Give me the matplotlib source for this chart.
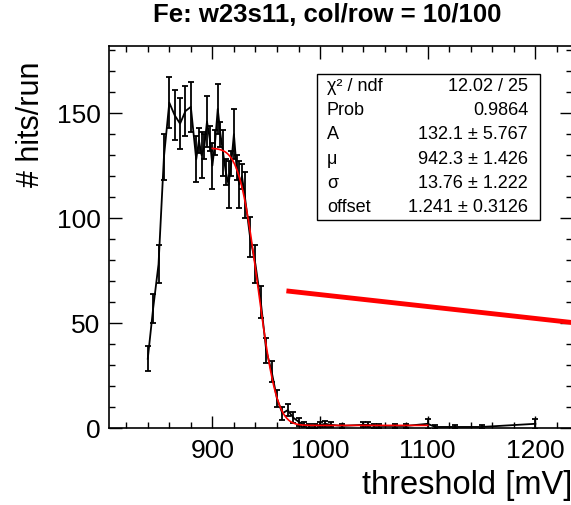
import math
import numpy as np
import matplotlib
matplotlib.use('Agg')
import matplotlib.pyplot as plt
from matplotlib.ticker import MultipleLocator
from matplotlib.patches import Rectangle

plt.rcParams['font.family'] = ['Liberation Sans', 'DejaVu Sans']

# threshold scan points (mV), hits per run and errors
threshold = [840, 845, 850, 855, 860, 865, 870, 875, 880, 885, 887.5, 890,
             892.5, 895, 897.5, 900, 902.5, 905, 907.5, 910, 912.5, 915,
             917.5, 920, 922.5, 925, 927.5, 930, 935, 940, 945, 950, 955,
             960, 965, 970, 975, 980, 985, 990, 995, 1000, 1005, 1010, 1020,
             1040, 1045, 1050, 1055, 1070, 1080, 1100, 1107, 1125, 1150, 1200]
hits = [33, 57, 78, 129, 155, 149, 145, 151, 153, 128, 137, 130,
        134, 146, 138, 125, 136, 152, 140, 131, 122, 116,
        126, 140, 124, 116, 120, 111, 91, 78, 60, 37, 27,
        14, 7, 8.5, 5, 3, 1.5, 1, 1, 1.5, 2, 1.5, 1,
        1.5, 1.5, 1, 1, 1, 1, 2, 0.5, 0.5, 0.5, 2]
hits_err = [6, 7, 9, 11, 12, 12, 12, 12, 12, 11, 6, 11,
            6, 12, 6, 11, 6, 12, 6, 11, 6, 11,
            6, 12, 6, 11, 6, 11, 9.5, 9, 7.5, 6, 5,
            4, 3, 2.7, 2.5, 2, 1.2, 1, 1, 1.2, 1.5, 1.2, 1,
            1.2, 1.2, 1, 1, 1, 1, 2.5, 1, 1, 1, 2.5]

# fit result (erfc turn-off), as printed in the stats box
fit_A, fit_mu, fit_sigma, fit_offset = 132.1, 942.3, 13.76, 1.241
fit_lo, fit_hi = 900, 1100

stat_names = ['χ² / ndf', 'Prob', 'A', 'μ', 'σ', 'offset']
stat_values = ['12.02 / 25', '0.9864', '132.1 ± 5.767', '942.3 ± 1.426',
               '13.76 ± 1.222', '1.241 ± 0.3126']

# the extra thick red line
line_x = [971, 1235]
line_y = [65.2, 50.2]

W, H = 571, 505
fig = plt.figure(figsize=(W / 100, H / 100), dpi=100)
ax = fig.add_axes([109 / W, 1 - 428 / H, (572 - 109) / W, (428 - 46) / H])

ax.errorbar(threshold, hits, yerr=hits_err, color='black', lw=1.3,
            elinewidth=1.3, capsize=2.5, capthick=1.3, zorder=2)

xs = np.linspace(fit_lo, fit_hi, 400)
erfc = np.vectorize(math.erfc)
ys = fit_A / 2 * erfc((xs - fit_mu) / (math.sqrt(2) * fit_sigma)) + fit_offset
ax.plot(xs, ys, color='red', lw=1.2, zorder=3)

ax.plot(line_x, line_y, color='red', lw=3.5, zorder=3)

ax.set_xlim(804, 1234)
ax.set_ylim(0, 182)
ax.xaxis.set_major_locator(MultipleLocator(100))
ax.xaxis.set_minor_locator(MultipleLocator(20))
ax.yaxis.set_major_locator(MultipleLocator(50))
ax.yaxis.set_minor_locator(MultipleLocator(10))
ax.tick_params(which='both', direction='in', top=True, right=True,
               width=1.0, labelsize=19)
ax.tick_params(which='major', length=9)
ax.tick_params(which='minor', length=4.5)
ax.tick_params(axis='x', pad=8)
ax.tick_params(axis='y', pad=6)
for s in ax.spines.values():
    s.set_linewidth(1.2)

ax.set_xlabel('threshold [mV]', loc='right', fontsize=23.5, labelpad=5)
ax.set_ylabel('# hits/run', loc='top', fontsize=22)
ax.yaxis.set_label_coords(-0.136, 0.96)

fig.text(327 / W, 1 - 15 / H, 'Fe: w23s11, col/row = 10/100',
         ha='center', va='center', fontsize=18.5, fontweight='bold')

# stats box
bx0, by0, bx1, by1 = 317, 74, 540, 220
fig.patches.append(Rectangle((bx0 / W, 1 - by1 / H), (bx1 - bx0) / W,
                             (by1 - by0) / H, transform=fig.transFigure,
                             facecolor='white', edgecolor='black', lw=1.0,
                             zorder=5))
row_h = (by1 - by0) / len(stat_names)
for i, (name, val) in enumerate(zip(stat_names, stat_values)):
    yc = 1 - (by0 + row_h * (i + 0.5)) / H
    fig.text(327 / W, yc, name, ha='left', va='center', fontsize=13,
             zorder=6)
    fig.text(528 / W, yc, val, ha='right', va='center', fontsize=13,
             zorder=6)

fig.savefig('out.png', dpi=100)
